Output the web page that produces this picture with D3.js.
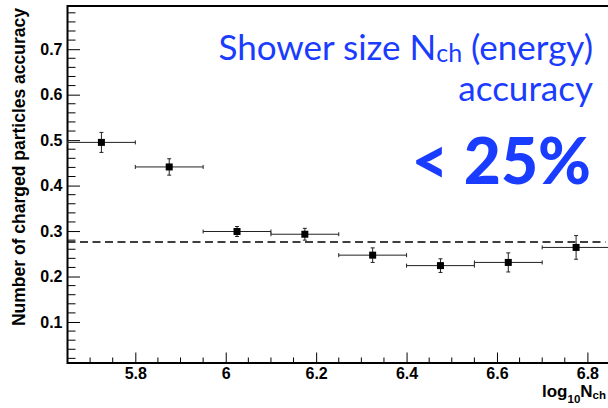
<!DOCTYPE html>
<html><head><meta charset="utf-8">
<script src="https://cdn.jsdelivr.net/npm/d3@7"></script>
<style>body{margin:0;background:#fff} svg{display:block}</style>
</head><body>
<script>
// ---- data ----
const binLow    = [5.65, 5.80, 5.95, 6.10, 6.25, 6.40, 6.55, 6.70];
const binHigh   = [5.80, 5.95, 6.10, 6.25, 6.40, 6.55, 6.70, 6.85];
const xCenter   = [5.725, 5.875, 6.025, 6.175, 6.325, 6.475, 6.625, 6.775];
const accuracy  = [0.495, 0.441, 0.299, 0.293, 0.247, 0.224, 0.231, 0.264];
const accErr    = [0.022, 0.018, 0.011, 0.013, 0.016, 0.015, 0.021, 0.026];
const fitValue  = 0.276;
const fitRange  = [5.65, 6.84];
const xTickLabels = [5.8, 6.0, 6.2, 6.4, 6.6, 6.8];
const yTickLabels = [0.1, 0.2, 0.3, 0.4, 0.5, 0.6, 0.7];
const xDomain = [5.65, 6.85];
const yDomain = [0.0098, 0.795];

const W = 608, H = 408;
const L = 67.5, R = 610, T = 6, B = 363;

const svg = d3.select("body").append("svg").attr("width", W).attr("height", H);
const x = d3.scaleLinear().domain(xDomain).range([L, R]);
const y = d3.scaleLinear().domain(yDomain).range([B, T]);

const font = "'Liberation Sans', Arial, Helvetica, sans-serif";

// minor ticks
const yMinor = d3.range(0.02, 0.79, 0.02).filter(v => Math.abs(v*10 - Math.round(v*10)) > 1e-6);
const xMinor = d3.range(5.70, 6.85, 0.05).filter(v => Math.abs(v*5 - Math.round(v*5)) > 1e-6);

// y axis
const yAxis = d3.axisLeft(y).tickValues(yTickLabels).tickSize(-12.5).tickPadding(5)
  .tickFormat(d3.format(".1f"));
const gy = svg.append("g").attr("transform", `translate(${L},0)`).call(yAxis);
gy.select(".domain").remove();
gy.selectAll(".tick line").attr("stroke", "#000").attr("stroke-width", 1);
gy.selectAll(".tick text").attr("font-family", font).attr("font-weight", "bold")
  .attr("font-size", 16).attr("fill", "#000");
svg.append("g").selectAll("line").data(yMinor).join("line")
  .attr("x1", L).attr("x2", L + 8).attr("y1", d => y(d)).attr("y2", d => y(d))
  .attr("stroke", "#000").attr("stroke-width", 1);

// x axis
const xAxis = d3.axisBottom(x).tickValues(xTickLabels).tickSize(-10.5).tickPadding(5)
  .tickFormat(d => d3.format("")(+d.toFixed(1)));
const gx = svg.append("g").attr("transform", `translate(0,${B})`).call(xAxis);
gx.select(".domain").remove();
gx.selectAll(".tick line").attr("stroke", "#000").attr("stroke-width", 1);
gx.selectAll(".tick text").attr("font-family", font).attr("font-weight", "bold")
  .attr("font-size", 16).attr("fill", "#000");
svg.append("g").selectAll("line").data(xMinor).join("line")
  .attr("x1", d => x(d)).attr("x2", d => x(d)).attr("y1", B).attr("y2", B - 5.5)
  .attr("stroke", "#000").attr("stroke-width", 1);

// frame
svg.append("rect").attr("x", L).attr("y", T).attr("width", R - L).attr("height", B - T)
  .attr("fill", "none").attr("stroke", "#000").attr("stroke-width", 2);

// fit line
svg.append("line").attr("x1", x(fitRange[0])).attr("x2", x(fitRange[1]))
  .attr("y1", y(fitValue)).attr("y2", y(fitValue))
  .attr("stroke", "#000").attr("stroke-width", 1.6).attr("stroke-dasharray", "8,4.5");

// data points
const pts = xCenter.map((c, i) => ({c, lo: binLow[i], hi: binHigh[i], v: accuracy[i], e: accErr[i]}));
const gp = svg.append("g").attr("stroke", "#222").attr("stroke-width", 1);
gp.selectAll(".h").data(pts).join("line").attr("class", "h")
  .attr("x1", d => x(d.lo)).attr("x2", d => x(d.hi)).attr("y1", d => y(d.v)).attr("y2", d => y(d.v));
gp.selectAll(".hl").data(pts).join("line").attr("class", "hl")
  .attr("x1", d => x(d.lo)).attr("x2", d => x(d.lo)).attr("y1", d => y(d.v) - 2).attr("y2", d => y(d.v) + 2);
gp.selectAll(".hr").data(pts).join("line").attr("class", "hr")
  .attr("x1", d => x(d.hi)).attr("x2", d => x(d.hi)).attr("y1", d => y(d.v) - 2).attr("y2", d => y(d.v) + 2);
gp.selectAll(".v").data(pts).join("line").attr("class", "v")
  .attr("x1", d => x(d.c)).attr("x2", d => x(d.c)).attr("y1", d => y(d.v + d.e)).attr("y2", d => y(d.v - d.e));
gp.selectAll(".vt").data(pts).join("line").attr("class", "vt")
  .attr("x1", d => x(d.c) - 2).attr("x2", d => x(d.c) + 2).attr("y1", d => y(d.v + d.e)).attr("y2", d => y(d.v + d.e));
gp.selectAll(".vb").data(pts).join("line").attr("class", "vb")
  .attr("x1", d => x(d.c) - 2).attr("x2", d => x(d.c) + 2).attr("y1", d => y(d.v - d.e)).attr("y2", d => y(d.v - d.e));
svg.append("g").selectAll("rect").data(pts).join("rect")
  .attr("x", d => x(d.c) - 3.5).attr("y", d => y(d.v) - 3.5).attr("width", 7).attr("height", 7)
  .attr("fill", "#000");

// axis titles
svg.append("text").attr("transform", `translate(25,${T + 2}) rotate(-90)`)
  .attr("text-anchor", "end").attr("font-family", font).attr("font-weight", "bold")
  .attr("font-size", 17.5).attr("fill", "#000").text("Number of charged particles accuracy");

const xt = svg.append("text").attr("x", 606).attr("y", 397).attr("text-anchor", "end")
  .attr("font-family", font).attr("font-weight", "bold").attr("font-size", 17).attr("fill", "#000");
xt.append("tspan").text("log");
xt.append("tspan").attr("dy", 6).attr("font-size", 11.5).text("10");
xt.append("tspan").attr("dy", -6).text("N");
xt.append("tspan").attr("dy", 2).attr("font-size", 11.5).text("ch");

// annotation
const blue = "#1a3cff";
const af = "Lato, 'Open Sans', sans-serif";
const t1 = svg.append("text").attr("x", 593).attr("y", 60).attr("text-anchor", "end")
  .attr("font-family", af).attr("font-size", 35).attr("fill", blue);
t1.append("tspan").text("Shower size N");
t1.append("tspan").attr("font-size", 25).attr("dy", 2).text("ch");
t1.append("tspan").attr("dy", -2).text(" (energy)");
svg.append("text").attr("x", 593).attr("y", 101).attr("text-anchor", "end")
  .attr("font-family", af).attr("font-size", 35).attr("fill", blue).text("accuracy");
svg.append("text").attr("x", 591).attr("y", 184).attr("text-anchor", "end")
  .attr("font-family", af).attr("font-weight", 900).attr("font-size", 64).attr("fill", blue).text("< 25%");
</script>
</body></html>
